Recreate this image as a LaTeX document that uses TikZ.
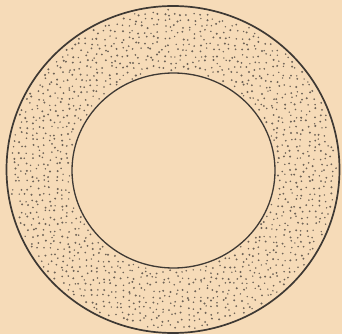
\documentclass[tikz,border=0pt]{standalone}
\definecolor{paper}{RGB}{246,219,184}
\definecolor{inkline}{RGB}{62,57,52}
\definecolor{dotc}{RGB}{110,98,86}
\tikzset{
  ringline/.style={draw=inkline},
  stipple/.style={fill=dotc}
}
\begin{document}
\begin{tikzpicture}[x=1pt,y=-1pt]
  \fill[paper] (0,0) rectangle (342,334);
  \useasboundingbox (0,0) rectangle (342,334);
  \pgfmathsetseed{4711}
  \foreach \gx in {0,...,57}{
    \foreach \gy in {0,...,56}{
      \pgfmathsetmacro\px{\gx*6+4.4*rnd-2.2+2}
      \pgfmathsetmacro\py{\gy*6+4.4*rnd-2.2+2}
      \pgfmathsetmacro\dO{((\px-173)/166.5)^2+((\py-169.5)/163.5)^2}
      \pgfmathsetmacro\dI{((\px-173.5)/101.5)^2+((\py-170.5)/97.5)^2}
      \pgfmathsetmacro\ok{and(\dO<0.96,\dI>1.045)}
      \ifdim\ok pt>0.5pt
        \pgfmathsetmacro\rr{0.75+0.4*rnd}
        \fill[stipple] (\px,\py) circle (\rr);
      \fi
    }
  }
  \coordinate (c) at (173,169.5);
  \coordinate (ci) at (173.5,170.5);
  \draw[ringline, line width=1.7pt] (c) ellipse [x radius=166.5, y radius=163.5];
  \draw[ringline, line width=1.3pt] (ci) ellipse [x radius=101.5, y radius=97.5];
\end{tikzpicture}
\end{document}
